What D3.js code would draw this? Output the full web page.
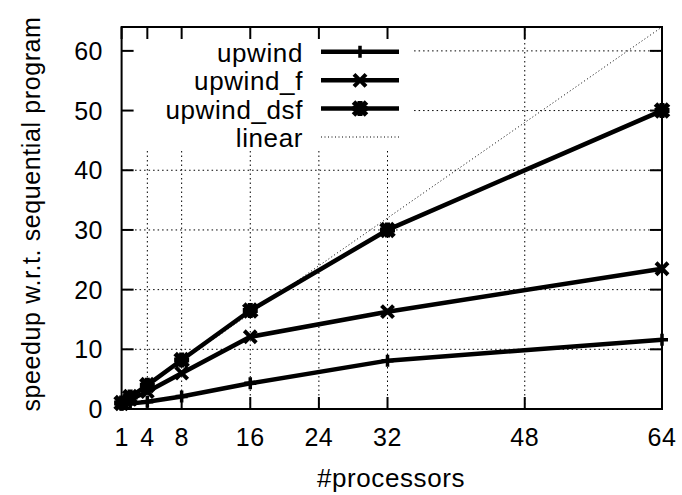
<!DOCTYPE html>
<html lang="en">
<head>
<meta charset="UTF-8">
<title>speedup</title>
<script src="https://d3js.org/d3.v7.min.js"></script>
<style>
    body { margin: 0; background: #fff; }
    text { font-family: "Liberation Sans", Arial, Helvetica, sans-serif; fill: #000; }
    .grid line { stroke: #000; stroke-width: 1; stroke-dasharray: 1.5,3; }
</style>
</head>
<body>
<div id="chart"></div>
<script>
    // data
    const procs = [1, 2, 4, 8, 16, 32, 64];
    const upwind = [0.7, 0.9, 1.2, 2.1, 4.3, 8.1, 11.6];
    const upwindF = [1.0, 1.6, 2.9, 6.0, 12.1, 16.3, 23.5];
    const upwindDsf = [1.0, 2.0, 4.0, 8.2, 16.5, 30.0, 50.0];
    const linear = [1, 64];
    const xTicks = [1, 4, 8, 16, 24, 32, 48, 64];
    const yTicks = [0, 10, 20, 30, 40, 50, 60];
    const seriesNames = ["upwind", "upwind_f", "upwind_dsf"];

    const W = 682, H = 495;
    const pLeft = 121.6, pRight = 662, pTop = 27, pBottom = 409;

    const svg = d3.select("#chart").append("svg")
        .attr("width", W).attr("height", H);

    const x = d3.scaleLinear().domain([1, 64]).range([pLeft, pRight]);
    const y = d3.scaleLinear().domain([0, 64]).range([pBottom, pTop]);

    // grid
    const grid = svg.append("g").attr("class", "grid");
    grid.selectAll(".vx").data(xTicks.filter(d => d > 1 && d < 64)).enter().append("line")
        .attr("x1", d => x(d)).attr("x2", d => x(d))
        .attr("y1", pBottom).attr("y2", pTop);
    grid.selectAll(".hy").data(yTicks.filter(d => d > 0)).enter().append("line")
        .attr("x1", pLeft).attr("x2", pRight)
        .attr("y1", d => y(d)).attr("y2", d => y(d));

    // key box hides the grid behind it
    svg.append("rect")
        .attr("x", pLeft).attr("y", pTop)
        .attr("width", 413 - pLeft).attr("height", 151 - pTop)
        .attr("fill", "#fff");

    // linear reference
    const line = d3.line().x(d => x(d[0])).y(d => y(d[1]));
    svg.append("path")
        .datum(linear.map(v => [v, v]))
        .attr("d", line)
        .attr("fill", "none").attr("stroke", "#000")
        .attr("stroke-width", 1).attr("stroke-dasharray", "1,2.5");

    // marker shapes
    const plus = s => `M${-s},0H${s}M0,${-s}V${s}`;
    const cross = s => `M${-s},${-s}L${s},${s}M${-s},${s}L${s},${-s}`;
    const markers = [
        () => plus(6),
        () => cross(6),
        () => plus(7.5) + cross(6.5)
    ];
    const markerWidth = [3.5, 4, 5];

    const allSeries = [upwind, upwindF, upwindDsf];
    allSeries.forEach((vals, i) => {
        const pts = procs.map((p, j) => [p, vals[j]]);
        svg.append("path")
            .datum(pts)
            .attr("d", line)
            .attr("fill", "none").attr("stroke", "#000")
            .attr("stroke-width", 4.5).attr("stroke-linejoin", "round");
        svg.selectAll(".m" + i).data(pts).enter().append("path")
            .attr("transform", d => `translate(${x(d[0])},${y(d[1])})`)
            .attr("d", markers[i])
            .attr("fill", "none").attr("stroke", "#000")
            .attr("stroke-width", markerWidth[i]);
    });

    // border
    svg.append("rect")
        .attr("x", pLeft).attr("y", pTop)
        .attr("width", pRight - pLeft).attr("height", pBottom - pTop)
        .attr("fill", "none").attr("stroke", "#000").attr("stroke-width", 2);

    // ticks (inward, mirrored)
    const tl = 12;
    const ticks = svg.append("g").attr("stroke", "#000").attr("stroke-width", 2);
    xTicks.forEach(t => {
        ticks.append("line").attr("x1", x(t)).attr("x2", x(t)).attr("y1", pBottom).attr("y2", pBottom - tl);
        ticks.append("line").attr("x1", x(t)).attr("x2", x(t)).attr("y1", pTop).attr("y2", pTop + tl);
    });
    yTicks.forEach(t => {
        ticks.append("line").attr("x1", pLeft).attr("x2", pLeft + tl).attr("y1", y(t)).attr("y2", y(t));
        ticks.append("line").attr("x1", pRight).attr("x2", pRight - tl).attr("y1", y(t)).attr("y2", y(t));
    });

    // tick labels
    svg.selectAll(".xl").data(xTicks).enter().append("text")
        .attr("x", d => x(d)).attr("y", 446)
        .attr("text-anchor", "middle").attr("font-size", 25)
        .attr("letter-spacing", 0.5)
        .text(d => d);
    svg.selectAll(".yl").data(yTicks).enter().append("text")
        .attr("x", 103).attr("y", d => y(d) + 9)
        .attr("text-anchor", "end").attr("font-size", 25)
        .attr("letter-spacing", 0.5)
        .text(d => d);

    // axis titles
    svg.append("text")
        .attr("x", 391).attr("y", 487)
        .attr("text-anchor", "middle").attr("font-size", 26)
        .attr("letter-spacing", 0.6)
        .text("#processors");
    svg.append("text")
        .attr("transform", "translate(40,214) rotate(-90)")
        .attr("text-anchor", "middle").attr("font-size", 25)
        .attr("letter-spacing", 0.6)
        .text("speedup w.r.t. sequential program");

    // key
    const keyNames = seriesNames.concat(["linear"]);
    const keyY = [51.7, 80.3, 108.6, 137];
    keyNames.forEach((name, i) => {
        const ky = keyY[i];
        svg.append("text")
            .attr("x", 303).attr("y", ky + 10)
            .attr("text-anchor", "end").attr("font-size", 26)
            .attr("letter-spacing", 0.6)
            .text(name);
        if (i < 3) {
            svg.append("line")
                .attr("x1", 321).attr("x2", 399).attr("y1", ky).attr("y2", ky)
                .attr("stroke", "#000").attr("stroke-width", 4.5);
            svg.append("path")
                .attr("transform", `translate(360,${ky})`)
                .attr("d", markers[i]())
                .attr("fill", "none").attr("stroke", "#000")
                .attr("stroke-width", markerWidth[i]);
        } else {
            svg.append("line")
                .attr("x1", 321).attr("x2", 399).attr("y1", ky).attr("y2", ky)
                .attr("stroke", "#000").attr("stroke-width", 1)
                .attr("stroke-dasharray", "1,2.5");
        }
    });
</script>
</body>
</html>
